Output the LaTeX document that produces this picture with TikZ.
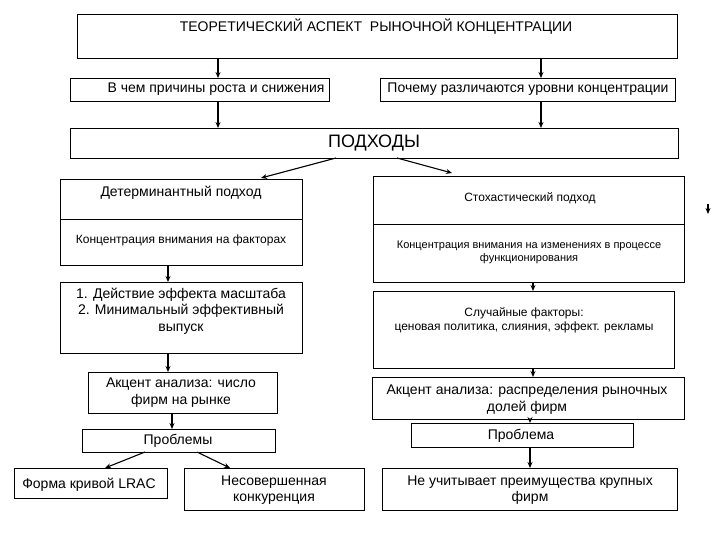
\documentclass[tikz,border=0pt]{standalone}
\usepackage{fontspec}
\setmainfont{Liberation Sans}
\usetikzlibrary{arrows.meta}
\tikzset{
  boxst/.style={draw, line width=0.9pt, inner sep=0pt, outer sep=0pt, fill=white},
  txt/.style={inner sep=0pt, align=center, font=\fontsize{14}{16.5}\selectfont},
  small/.style={inner sep=0pt, align=center, font=\fontsize{11}{13}\selectfont},
  arr/.style={line width=1.1pt, -{Stealth[length=6pt,width=5pt]}},
}
\newcommand{\bx}[5]{\node[boxst, minimum width={(#4-#2)*1pt}, minimum height={(#5-#3)*1pt}] (#1) at ({(#2+#4)/2},{(#3+#5)/2}) {};}
\begin{document}
\begin{tikzpicture}[x=1pt,y=-1pt]
\useasboundingbox (0,0) rectangle (720,540);
% boxes
\bx{title}{77}{14}{677}{58}
\bx{why}{70}{78}{329}{101}
\bx{levels}{380}{78}{675}{101}
\bx{appr}{70}{128}{678}{158}
\bx{det}{60}{179}{302}{265}
\bx{sto}{373}{176}{684}{282}
\bx{scale}{60}{282}{302}{353}
\bx{rand}{373}{291}{674}{368}
\bx{accL}{88}{372}{277}{413}
\bx{accR}{372}{377}{684}{419}
\bx{probL}{82}{429}{275}{452}
\bx{probR}{411}{423}{633}{447}
\bx{lrac}{14}{468}{167}{498}
\bx{imp}{184}{468}{364}{510}
\bx{big}{382}{468}{677}{510}
% dividers
\draw[line width=0.9pt] (det.west |- 0,219) coordinate (dl) -- (det.east |- 0,219) coordinate (dr);
\draw[line width=0.9pt] (sto.west |- 0,224) coordinate (sl) -- (sto.east |- 0,224) coordinate (sr);
% texts
\node[txt] (t0) at (376,27) {ТЕОРЕТИЧЕСКИЙ АСПЕКТ \ РЫНОЧНОЙ КОНЦЕНТРАЦИИ};
\node[txt] (t1) at (216,89.5) {В чем причины роста и снижения};
\node[txt] (t2) at (528,89.5) {Почему различаются уровни концентрации};
\node[txt, font=\fontsize{18}{21}\selectfont] (t3) at (374,143) {ПОДХОДЫ};
\node[txt] (t4) at (181,193) {Детерминантный подход};
\node[txt, font=\fontsize{12}{14}\selectfont] (t5) at (181,240) {Концентрация внимания на факторах};
\node[small, font=\fontsize{12}{14}\selectfont] (t6) at (530,198) {Стохастический подход};
\node[small] (t7) at (529,252.5) {Концентрация внимания на изменениях в процессе\\функционирования};
\node[txt, font=\fontsize{14}{16.3}\selectfont] (t8) at (181,311) {1. Действие эффекта масштаба\\2. Минимальный эффективный\\выпуск};
\node[small, font=\fontsize{12}{14}\selectfont] (t9) at (524,320) {Случайные факторы:\\ценовая политика, слияния, эффект. рекламы};
\node[txt, font=\fontsize{14}{17}\selectfont] (t10) at (181,393) {Акцент анализа: число\\фирм на рынке};
\node[txt, font=\fontsize{14}{17}\selectfont] (t11) at (527,399.5) {Акцент анализа: распределения рыночных\\долей фирм};
\node[txt] (t12) at (178,441) {Проблемы};
\node[txt] (t13) at (521,436) {Проблема};
\node[txt] (t14) at (89,485) {Форма кривой LRAC};
\node[txt] (t15) at (274,490) {Несовершенная\\конкуренция};
\node[txt] (t16) at (530,490) {Не учитывает преимущества крупных\\фирм};
% arrow columns
\coordinate (xa) at (218,0);
\coordinate (xb) at (541,0);
\coordinate (xc) at (168,0);
\coordinate (xd) at (533,0);
\coordinate (xe) at (172,0);
\coordinate (xf) at (530,0);
\draw[arr] (xa |- title.south) -- (xa |- why.north);
\draw[arr] (xb |- title.south) -- (xb |- levels.north);
\draw[arr] (xa |- why.south) -- (xa |- appr.north);
\draw[arr] (xb |- levels.south) -- (xb |- appr.north);
\coordinate (pl) at (336,158);
\coordinate (pr) at (397,158);
\coordinate (dt) at (261,178);
\coordinate (st) at (452,173);
\draw[arr] (pl) -- (dt);
\draw[arr] (pr) -- (st);
\draw[arr] (xc |- det.south) -- (xc |- scale.north);
\draw[arr] (xd |- sto.south) -- (xd |- rand.north);
\draw[arr] (xc |- scale.south) -- (xc |- accL.north);
\draw[arr] (xd |- rand.south) -- (xd |- accR.north);
\draw[arr] (xe |- accL.south) -- (xe |- probL.north);
\draw[arr] (xf |- accR.south) -- (xf |- probR.north);
\draw[arr] (xf |- probR.south) -- (xf |- big.north);
\coordinate (q1) at (145,452);
\coordinate (q2) at (197,452);
\coordinate (q3) at (105,468);
\coordinate (q4) at (230,468);
\draw[arr] (q1) -- (q3);
\draw[arr] (q2) -- (q4);
% stray arrow
\coordinate (s1) at (708,204);
\coordinate (s2) at (708,214);
\draw[arr] (s1) -- (s2);
\end{tikzpicture}
\end{document}
